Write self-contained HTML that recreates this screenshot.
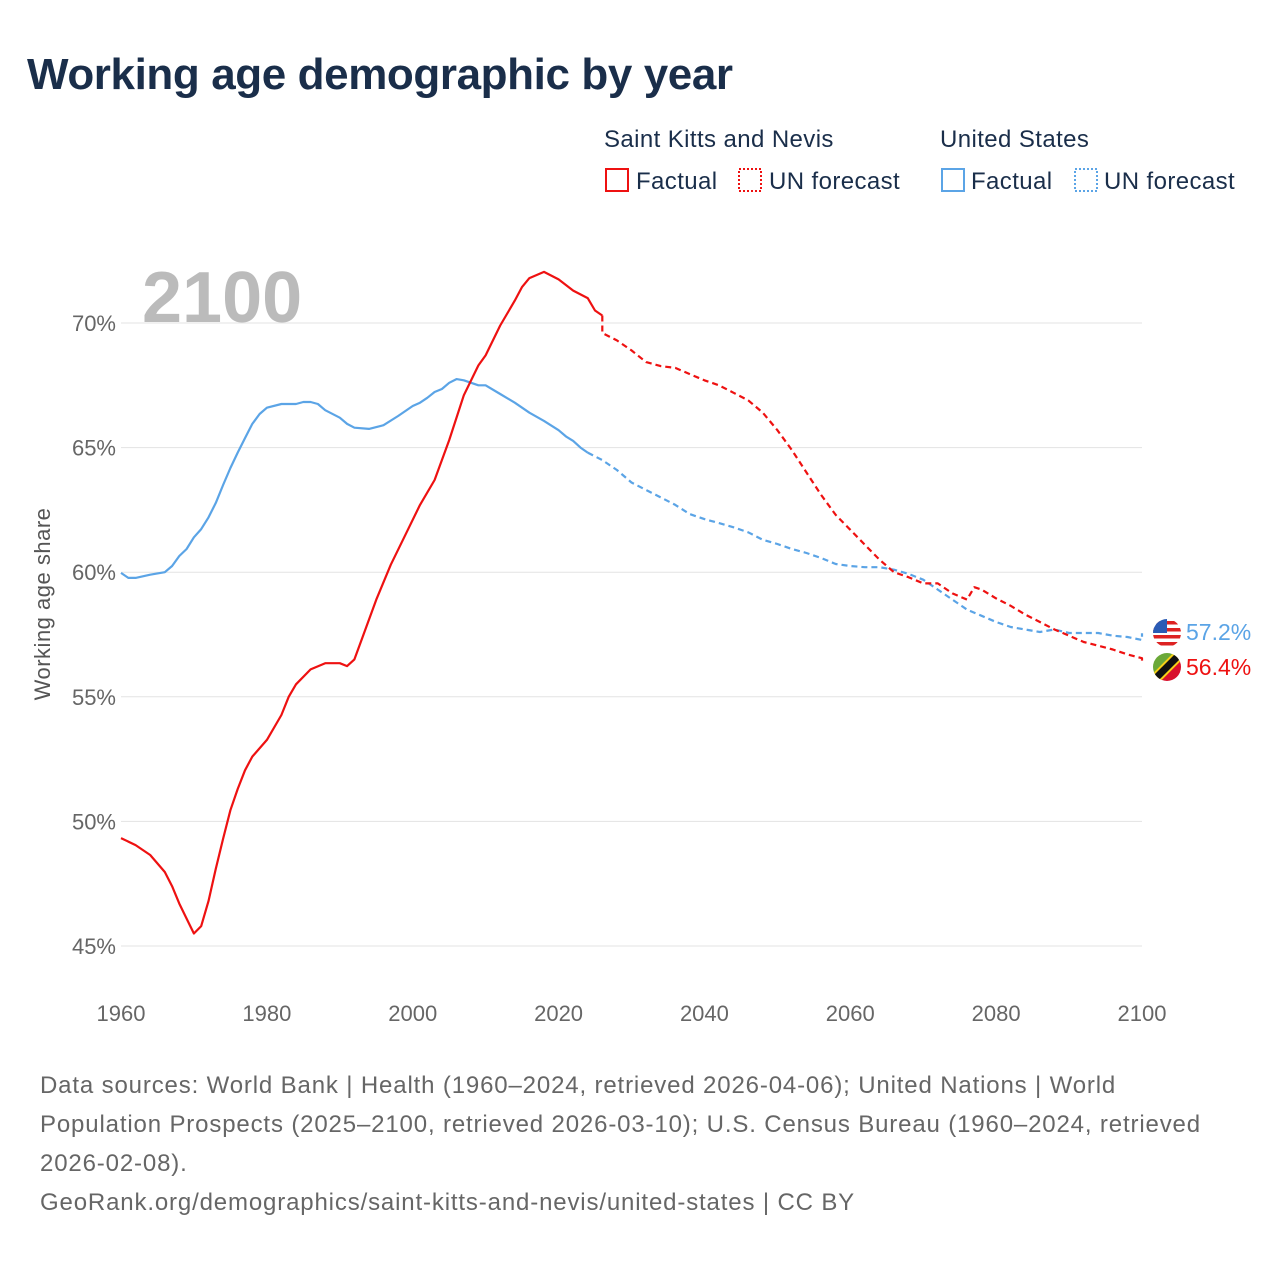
<!DOCTYPE html>
<html><head><meta charset="utf-8"><style>
body{margin:0;background:#fff;font-family:"Liberation Sans",sans-serif}
#c{position:relative;width:1280px;height:1280px;overflow:hidden}
.t{position:absolute;white-space:nowrap}
</style></head><body>
<div id="c">
<div class="t" style="left:27px;top:50px;font-size:44px;font-weight:bold;color:#1a2e4a;letter-spacing:-0.4px">Working age demographic by year</div>
<svg id="s" width="1280" height="1280" style="position:absolute;left:0;top:0"></svg>
<div class="t" style="left:40px;top:1066px;font-size:24px;line-height:39px;color:#666;letter-spacing:0.85px">Data sources: World Bank | Health (1960–2024, retrieved 2026-04-06); United Nations | World<br>Population Prospects (2025–2100, retrieved 2026-03-10); U.S. Census Bureau (1960–2024, retrieved<br>2026-02-08).<br>GeoRank.org/demographics/saint-kitts-and-nevis/united-states | CC BY</div>
</div>
<script>
const yTicks=[45,50,55,60,65,70];
const xTicks=[1960,1980,2000,2020,2040,2060,2080,2100];
const sknYears=[1960,1962,1964,1966,1967,1968,1969,1970,1971,1972,1973,1974,1975,1976,1977,1978,1980,1982,1983,1984,1986,1988,1990,1991,1992,1993,1995,1997,1999,2001,2003,2005,2007,2009,2010,2012,2014,2015,2016,2018,2020,2022,2024,2025,2026];
const sknVals=[49.33,49.05,48.65,47.97,47.4,46.7,46.1,45.5,45.8,46.8,48.1,49.3,50.45,51.3,52.05,52.6,53.27,54.27,55.0,55.5,56.1,56.35,56.35,56.23,56.5,57.3,58.9,60.3,61.5,62.7,63.7,65.3,67.1,68.3,68.7,69.9,70.9,71.45,71.8,72.05,71.75,71.3,71.0,70.5,70.3];
const sknFYears=[2026,2026,2028,2030,2032,2034,2036,2038,2040,2042,2044,2046,2048,2050,2052,2054,2056,2058,2060,2062,2064,2066,2068,2070,2072,2074,2076,2077,2078,2080,2082,2084,2086,2088,2090,2092,2094,2096,2098,2100,2100];
const sknFVals=[70.3,69.6,69.3,68.9,68.43,68.27,68.2,67.95,67.7,67.5,67.2,66.9,66.4,65.7,64.9,64.0,63.1,62.3,61.7,61.1,60.5,60.0,59.8,59.55,59.55,59.15,58.9,59.4,59.3,58.95,58.65,58.3,58.0,57.7,57.45,57.2,57.05,56.9,56.7,56.55,56.4];
const usYears=[1960,1961,1962,1964,1966,1967,1968,1969,1970,1971,1972,1973,1974,1975,1976,1977,1978,1979,1980,1982,1984,1985,1986,1987,1988,1990,1991,1992,1994,1996,1998,2000,2001,2002,2003,2004,2005,2006,2007,2008,2009,2010,2012,2014,2016,2018,2020,2021,2022,2023,2024];
const usVals=[59.97,59.77,59.77,59.9,60.0,60.25,60.65,60.93,61.4,61.73,62.2,62.78,63.5,64.18,64.8,65.38,65.95,66.35,66.6,66.75,66.75,66.83,66.83,66.75,66.5,66.2,65.95,65.8,65.75,65.9,66.27,66.67,66.8,67.0,67.23,67.35,67.6,67.75,67.7,67.6,67.5,67.5,67.15,66.8,66.4,66.07,65.7,65.45,65.27,65.0,64.8];
const usFYears=[2024,2026,2028,2030,2032,2034,2036,2038,2040,2042,2044,2046,2048,2050,2052,2054,2056,2058,2060,2062,2064,2066,2068,2070,2072,2074,2076,2078,2080,2082,2084,2086,2088,2090,2092,2094,2096,2098,2100,2100];
const usFVals=[64.8,64.5,64.1,63.6,63.3,63.0,62.7,62.33,62.13,61.97,61.8,61.6,61.3,61.13,60.93,60.77,60.57,60.33,60.25,60.2,60.2,60.1,59.93,59.7,59.3,58.9,58.5,58.25,58.0,57.8,57.7,57.6,57.7,57.56,57.56,57.56,57.45,57.4,57.28,57.55];
const X=y=>121+(y-1960)*(1142-121)/140;
const Y=v=>323+(70-v)*24.92;
const s=document.getElementById('s');const NS='http://www.w3.org/2000/svg';
function el(t,a,txt){const e=document.createElementNS(NS,t);for(const k in a)e.setAttribute(k,a[k]);if(txt!=null)e.textContent=txt;s.appendChild(e);return e;}
yTicks.forEach(v=>{
 const g=el('line',{x1:121,x2:1142,y1:Y(v),y2:Y(v),stroke:'#e3e3e3','stroke-width':1});
 
 
 const t=el('text',{x:116,y:Y(v)+8,'text-anchor':'end','font-size':22,fill:'#666','font-family':'Liberation Sans'},v+'%');
 
 
});
xTicks.forEach(v=>{
 const t=el('text',{x:X(v),y:1021,'text-anchor':'middle','font-size':22,fill:'#666','font-family':'Liberation Sans'},v);
 
 
});
const yt=el('text',{x:0,y:0,transform:'translate(50,604) rotate(-90)','text-anchor':'middle','font-size':22,fill:'#555','font-family':'Liberation Sans','letter-spacing':'0.5'},'Working age share');


const yr=el('text',{x:142,y:322,'font-size':72,'font-weight':'bold',fill:'#bbb','font-family':'Liberation Sans'},'2100');


function line(xs,vs,col,dash,name){
 const d=xs.map((x,i)=>(i?'L':'M')+X(x).toFixed(1)+','+Y(vs[i]).toFixed(1)).join('');
 const p=el('path',{d:d,fill:'none',stroke:col,'stroke-width':2.2,'stroke-dasharray':dash||'none','stroke-linejoin':'round'});
 
 
}
line(usFYears,usFVals,'#5ba4e6','6,4','us-forecast-line');
line(usYears,usVals,'#5ba4e6',null,'us-factual-line');
line(sknFYears,sknFVals,'#ee1111','6,4','skn-forecast-line');
line(sknYears,sknVals,'#ee1111',null,'skn-factual-line');
function lt(x,y,txt,name){const t=el('text',{x:x,y:y,'font-size':24,fill:'#1a2e4a','font-family':'Liberation Sans','letter-spacing':'0.4'},txt);}
lt(604,147,'Saint Kitts and Nevis','legend-title-skn');
lt(940,147,'United States','legend-title-us');
[[605,'#ee1111',null,'legend-skn-factual',636,'Factual'],[738,'#ee1111','2,2','legend-skn-forecast',769,'UN forecast'],[941,'#5ba4e6',null,'legend-us-factual',971,'Factual'],[1074,'#5ba4e6','2,2','legend-us-forecast',1104,'UN forecast']].forEach(a=>{
 const r=el('rect',{x:a[0]+1,y:169,width:22,height:22,fill:'none',stroke:a[1],'stroke-width':2,'stroke-dasharray':a[2]||'none'});
 
 
 lt(a[4],189,a[5],a[3]+'-label');
});
const defs=el('defs',{});
defs.innerHTML='<clipPath id="c1"><circle cx="1167" cy="633" r="14"/></clipPath><clipPath id="c2"><circle cx="1167" cy="667" r="14"/></clipPath>';
const g1=el('g',{'clip-path':'url(#c1)'});
g1.innerHTML='<rect x="1153" y="619" width="28" height="28" fill="#fff"/>'+[0,1,2,3].map(i=>'<rect x="1153" y="'+(621+i*7)+'" width="28" height="3.5" fill="#d22"/>').join('')+'<rect x="1153" y="619" width="14" height="14" fill="#2a5bb5"/>';
const g2=el('g',{'clip-path':'url(#c2)'});
g2.innerHTML='<polygon points="1153,653 1181,653 1153,681" fill="#6aa838"/><polygon points="1181,653 1181,681 1153,681" fill="#d8102c"/><line x1="1151" y1="683" x2="1183" y2="651" stroke="#f7d117" stroke-width="11"/><line x1="1151" y1="683" x2="1183" y2="651" stroke="#111" stroke-width="7"/>';
const l1=el('text',{x:1186,y:640,'font-size':23,fill:'#5ba4e6','font-family':'Liberation Sans'},'57.2%');
const l2=el('text',{x:1186,y:675,'font-size':23,fill:'#ee1111','font-family':'Liberation Sans'},'56.4%');
</script>
</body></html>
